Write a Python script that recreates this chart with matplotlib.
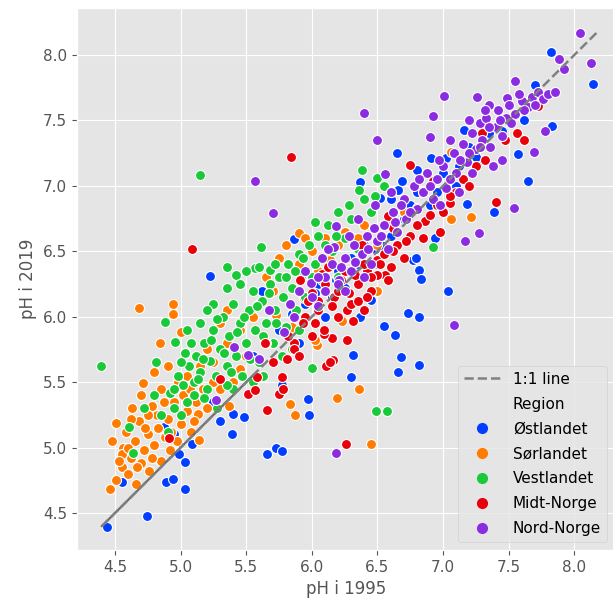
import numpy as np
import matplotlib
matplotlib.use("Agg")
import matplotlib.pyplot as plt
from matplotlib.lines import Line2D

plt.style.use("ggplot")

# pH per station, 1995 vs 2019, grouped by region
OSTLANDET = [
    (4.44, 4.39), (4.74, 4.48), (4.55, 4.74), (4.89, 4.74), (4.94, 4.76), (5.03, 4.68),
    (4.98, 5.04), (4.99, 4.95), (5.03, 4.89), (5.09, 5.03), (4.87, 5.16), (5.30, 5.20),
    (5.39, 5.10), (5.40, 5.26), (5.48, 5.23), (5.66, 4.95), (5.73, 5.00), (5.77, 4.97),
    (5.97, 5.37), (5.98, 5.25), (5.77, 5.48), (5.22, 6.31), (5.86, 6.59), (6.31, 5.71),
    (6.30, 5.54), (6.55, 5.93), (6.63, 5.86), (6.68, 5.69), (6.82, 5.63), (6.66, 5.58),
    (6.73, 6.03), (6.82, 6.00), (7.04, 6.20), (6.82, 6.36), (6.83, 6.29), (6.77, 6.43),
    (7.18, 6.86), (7.39, 6.80), (7.65, 7.04), (7.57, 7.24), (7.62, 7.50), (7.83, 7.46),
    (7.70, 7.77), (7.82, 8.02), (8.14, 7.78), (6.65, 7.25), (6.91, 7.21), (6.37, 7.03),
    (6.37, 6.00), (6.45, 6.13), (5.95, 6.10), (6.05, 6.25), (6.10, 6.00), (6.20, 6.35),
    (6.30, 6.45), (6.40, 6.55), (6.50, 6.40), (6.55, 6.70), (6.60, 6.90), (6.70, 6.75),
    (6.80, 6.95), (6.90, 6.85), (7.00, 7.10), (7.10, 7.00), (7.20, 7.30), (7.30, 7.20),
    (7.35, 7.40), (6.15, 6.15), (5.90, 5.80), (5.75, 5.90), (6.66, 6.97), (6.69, 7.04),
    (7.02, 7.21), (7.16, 7.43), (6.80, 7.12), (6.79, 6.45), (6.94, 6.60), (6.52, 6.91),
    (6.54, 6.54), (6.25, 6.22), (5.62, 6.20), (5.85, 6.02), (6.02, 6.18), (6.18, 6.28),
    (6.35, 6.40), (6.48, 6.52), (6.60, 6.62), (6.75, 6.85), (6.95, 6.95), (7.12, 7.15),
    (7.25, 7.22), (7.45, 7.42), (5.55, 5.70), (5.25, 5.35), (4.95, 5.10),
]

SORLANDET = [
    (4.46, 4.68), (4.51, 4.75), (4.56, 5.00), (4.51, 5.19), (4.55, 4.85), (4.60, 4.80),
    (4.62, 4.92), (4.65, 5.05), (4.58, 5.12), (4.68, 5.20), (4.70, 4.88), (4.72, 4.98),
    (4.75, 5.10), (4.76, 4.82), (4.80, 5.02), (4.82, 5.25), (4.78, 5.32), (4.85, 4.90),
    (4.88, 5.08), (4.90, 5.22), (4.93, 5.12), (4.95, 5.35), (5.00, 5.18), (5.02, 5.40),
    (5.05, 5.28), (5.08, 5.12), (5.14, 5.06), (5.12, 5.35), (4.70, 5.40), (4.63, 5.30),
    (4.85, 5.45), (4.98, 5.50), (5.05, 5.55), (4.71, 5.49), (4.80, 5.58), (4.90, 5.62),
    (4.84, 5.80), (5.03, 5.72), (4.68, 6.07), (4.94, 6.10), (4.94, 6.02), (5.00, 5.88),
    (4.55, 4.95), (4.48, 5.05), (5.20, 5.75), (5.25, 5.65), (5.30, 5.95), (5.35, 5.80),
    (5.45, 5.90), (5.55, 6.00), (5.37, 5.32), (5.20, 5.30), (5.13, 5.26), (5.30, 5.45),
    (5.45, 5.60), (5.60, 6.10), (5.70, 6.20), (5.75, 6.45), (5.90, 6.64), (5.90, 6.40),
    (6.00, 6.50), (6.10, 6.60), (6.20, 6.55), (6.35, 6.60), (6.50, 6.55), (6.60, 6.75),
    (6.70, 6.80), (6.85, 6.95), (7.06, 7.26), (7.21, 6.76), (7.06, 6.75), (6.45, 5.03),
    (6.19, 5.38), (6.36, 5.45), (5.83, 5.33), (5.87, 5.25), (6.04, 5.78), (6.02, 5.82),
    (6.23, 5.97), (6.50, 6.20), (5.73, 6.01), (5.85, 5.92), (5.94, 6.14), (6.14, 6.43),
    (5.15, 5.62), (5.10, 5.20), (4.66, 4.72), (4.92, 4.98), (5.40, 5.50), (5.50, 5.70),
    (4.53, 4.90), (4.60, 5.00), (4.67, 4.85), (4.73, 5.15), (4.78, 4.92), (4.83, 5.15),
    (4.87, 5.35), (4.97, 5.05), (5.07, 5.45), (5.17, 5.45), (4.62, 5.22), (4.75, 5.25),
    (5.25, 5.50), (5.35, 6.05), (5.65, 6.30), (5.80, 6.55), (5.95, 6.60), (6.25, 6.65),
    (6.40, 6.70), (6.05, 6.35),
]

VESTLANDET = [
    (4.39, 5.62), (5.15, 7.08), (4.88, 5.96), (4.96, 5.81), (4.81, 5.65), (5.03, 5.72),
    (4.61, 5.16), (4.64, 4.96), (6.00, 5.61), (6.49, 5.28), (6.57, 5.28), (6.92, 6.53),
    (6.36, 6.97), (6.50, 7.06), (5.61, 6.53), (5.35, 6.38), (5.42, 6.32), (5.57, 6.37),
    (5.68, 6.36), (4.92, 5.42), (4.98, 5.55), (5.02, 5.48), (5.06, 5.62), (5.10, 5.50),
    (5.12, 5.70), (5.15, 5.58), (5.18, 5.80), (5.20, 5.45), (5.22, 5.66), (5.25, 5.90),
    (5.27, 5.55), (5.30, 5.75), (5.32, 6.00), (5.35, 5.62), (5.37, 5.85), (5.40, 6.10),
    (5.42, 5.70), (5.45, 5.95), (5.47, 5.55), (5.50, 5.80), (5.52, 6.05), (5.55, 6.20),
    (5.57, 5.90), (5.60, 5.65), (5.62, 6.12), (5.65, 5.95), (5.68, 6.25), (5.70, 5.80),
    (5.72, 6.05), (5.75, 6.30), (5.78, 6.15), (5.80, 5.92), (5.82, 6.40), (5.85, 6.22),
    (5.88, 6.05), (5.90, 6.48), (5.92, 6.30), (5.95, 6.15), (5.98, 6.55), (6.02, 6.40),
    (6.05, 6.62), (6.08, 6.28), (6.12, 6.70), (6.15, 6.50), (6.20, 6.80), (6.25, 6.60),
    (6.30, 6.75), (6.40, 6.90), (6.45, 6.80), (6.55, 7.00), (6.60, 6.95), (5.05, 5.35),
    (5.00, 5.25), (5.10, 5.40), (4.95, 5.30), (5.15, 5.95), (5.25, 6.10), (5.35, 6.22),
    (5.45, 6.25), (5.50, 6.35), (5.20, 6.05), (5.08, 5.80), (5.40, 5.45), (5.55, 5.50),
    (5.63, 5.55), (5.77, 5.70), (5.85, 5.75), (6.35, 6.52), (6.20, 6.30), (5.28, 5.30),
    (4.85, 5.25), (5.90, 5.90), (5.65, 5.80), (5.60, 6.38), (4.72, 5.30), (6.38, 7.12),
    (5.05, 5.90), (5.13, 5.52), (5.17, 5.68), (5.23, 5.82), (5.28, 5.98), (5.33, 5.72),
    (5.38, 5.58), (5.43, 5.88), (5.48, 6.00), (5.53, 5.68), (5.58, 6.08), (5.63, 5.85),
    (5.67, 6.18), (5.73, 5.95), (5.80, 6.30), (5.87, 6.35), (5.93, 6.45), (6.00, 6.30),
    (6.10, 6.55), (6.18, 6.62), (6.28, 6.85), (5.00, 5.65), (4.95, 5.45), (4.90, 5.12),
    (4.80, 5.40), (5.18, 5.38), (5.35, 5.48), (5.72, 6.40), (6.02, 6.72), (6.48, 6.92),
]

MIDT_NORGE = [
    (5.84, 7.22), (5.09, 6.52), (4.91, 5.07), (5.30, 5.52), (5.66, 5.29), (5.51, 5.41),
    (5.57, 5.44), (5.75, 5.41), (5.81, 5.68), (6.11, 5.62), (6.16, 5.67), (6.26, 5.03),
    (6.27, 5.82), (6.15, 5.84), (6.09, 5.87), (6.31, 5.97), (6.27, 6.05), (7.05, 6.87),
    (6.98, 6.65), (7.40, 6.88), (7.56, 7.40), (7.62, 7.35), (7.72, 7.61), (7.75, 7.69),
    (5.64, 5.80), (6.09, 5.90), (6.05, 6.05), (6.17, 6.15), (6.08, 6.33), (5.91, 6.28),
    (5.86, 5.80), (5.58, 5.54), (5.77, 5.54), (5.78, 5.45), (6.75, 7.16), (6.80, 6.83),
    (6.86, 6.73), (6.58, 6.77), (6.50, 6.43), (6.56, 6.32), (6.42, 6.35), (7.30, 7.40),
    (7.32, 7.20), (7.47, 7.35), (6.92, 7.04), (5.86, 5.75), (6.14, 5.65), (6.00, 6.18),
    (6.10, 6.25), (6.20, 6.20), (6.25, 6.35), (6.30, 6.10), (6.35, 6.25), (6.40, 6.40),
    (6.45, 6.20), (6.50, 6.32), (6.55, 6.48), (6.60, 6.38), (6.65, 6.55), (6.70, 6.45),
    (6.75, 6.62), (6.85, 6.60), (6.90, 6.78), (7.00, 6.80), (7.10, 6.95), (7.15, 7.05),
    (7.20, 7.00), (7.25, 7.15), (5.95, 6.00), (6.02, 5.95), (6.20, 6.00), (6.35, 6.12),
    (5.70, 5.65), (5.90, 5.70), (6.40, 6.05), (5.97, 6.12), (6.12, 6.38), (6.38, 6.55),
    (6.62, 6.68), (6.05, 6.12), (6.15, 6.08), (6.22, 6.28), (6.28, 6.18), (6.33, 6.32),
    (6.45, 6.30), (6.52, 6.40), (6.62, 6.50), (6.72, 6.58), (6.80, 6.70), (6.95, 6.85),
    (7.05, 6.92), (6.00, 5.85), (5.93, 5.95), (5.82, 5.85), (6.42, 6.15), (6.58, 6.28),
]

NORD_NORGE = [
    (5.57, 7.04), (5.70, 6.79), (5.27, 5.36), (6.18, 4.96), (6.40, 7.56), (6.50, 7.35),
    (6.92, 7.53), (6.90, 7.37), (7.01, 7.69), (7.26, 7.68), (7.49, 7.67), (7.55, 7.80),
    (8.04, 8.17), (7.88, 7.97), (7.92, 7.89), (8.13, 7.94), (7.78, 7.42), (7.69, 7.26),
    (7.54, 6.83), (7.27, 6.64), (7.17, 6.58), (7.08, 5.94), (6.56, 7.09), (5.41, 5.77),
    (5.51, 5.71), (5.60, 5.68), (5.67, 6.05), (5.79, 5.88), (5.83, 6.10), (5.86, 6.00),
    (5.99, 6.26), (6.10, 6.30), (6.21, 6.28), (6.18, 6.69), (6.17, 6.53), (6.00, 6.15),
    (6.05, 6.30), (6.10, 6.20), (6.15, 6.40), (6.20, 6.25), (6.25, 6.45), (6.30, 6.35),
    (6.32, 6.55), (6.38, 6.48), (6.42, 6.62), (6.45, 6.40), (6.50, 6.58), (6.55, 6.70),
    (6.58, 6.52), (6.62, 6.80), (6.65, 6.65), (6.70, 6.90), (6.72, 6.75), (6.78, 7.00),
    (6.80, 6.82), (6.85, 6.95), (6.88, 7.10), (6.92, 6.90), (6.95, 7.05), (7.00, 7.15),
    (7.02, 6.98), (7.08, 7.25), (7.10, 7.10), (7.15, 7.32), (7.18, 7.18), (7.22, 7.40),
    (7.25, 7.28), (7.28, 7.48), (7.30, 7.35), (7.33, 7.52), (7.36, 7.30), (7.40, 7.45),
    (7.42, 7.58), (7.45, 7.38), (7.48, 7.52), (7.50, 7.62), (7.55, 7.55), (7.60, 7.65),
    (7.65, 7.60), (7.68, 7.68), (7.72, 7.72), (7.76, 7.66), (7.80, 7.70), (7.85, 7.72),
    (7.45, 7.20), (7.38, 7.15), (7.12, 6.95), (6.98, 6.85), (6.35, 6.75), (6.28, 6.62),
    (5.95, 6.35), (5.90, 6.20), (6.08, 6.45), (6.48, 6.85), (6.40, 6.30), (7.05, 7.35),
    (7.22, 7.10), (6.60, 6.95), (7.35, 7.62), (7.58, 7.70), (6.12, 6.52), (6.22, 6.38),
    (6.33, 6.42), (6.43, 6.52), (6.53, 6.62), (6.63, 6.72), (6.68, 6.85), (6.75, 6.80),
    (6.82, 7.05), (6.90, 7.00), (6.97, 7.20), (7.05, 7.05), (7.13, 7.20), (7.20, 7.25),
    (7.28, 7.30), (7.35, 7.45), (7.43, 7.50), (7.52, 7.48), (7.62, 7.58), (7.70, 7.62),
    (7.32, 7.58), (7.20, 7.50), (6.05, 6.08), (6.25, 6.20), (6.47, 6.68),
]

REGIONS = ["Østlandet", "Sørlandet", "Vestlandet", "Midt-Norge", "Nord-Norge"]
COLORS = ["#023eff", "#ff7c00", "#1ac938", "#e8000b", "#8b2be2"]
SERIES = [OSTLANDET, SORLANDET, VESTLANDET, MIDT_NORGE, NORD_NORGE]

LINE_END = [4.40, 8.17]
SOLID_END = [4.40, 5.55]

fig = plt.figure(figsize=(6.13, 6.04), dpi=100)
ax = fig.add_axes([77 / 613, 54 / 604, 538 / 613, 542 / 604])

handles = []
for name, col, pts in zip(REGIONS, COLORS, SERIES):
    arr = np.array(pts)
    ax.scatter(arr[:, 0], arr[:, 1], s=52, color=col, edgecolor="white",
               linewidth=0.8, zorder=3)
    handles.append(Line2D([], [], marker="o", linestyle="none", color=col,
                          markersize=7, label=name))

ax.plot(SOLID_END, SOLID_END, color="#6e6e6e", lw=1.6, zorder=4)
ln, = ax.plot(LINE_END, LINE_END, color="gray", lw=1.8, linestyle="--",
              label="1:1 line", zorder=4)

ax.set_xlim(4.21, 8.31)
ax.set_ylim(4.217, 8.359)
ax.set_xticks(np.arange(4.5, 8.01, 0.5))
ax.set_yticks(np.arange(4.5, 8.01, 0.5))
ax.tick_params(labelsize=11, colors="#555555")
ax.set_xlabel("pH i 1995", fontsize=12, color="#555555")
ax.set_ylabel("pH i 2019", fontsize=12, color="#555555")

region_title = Line2D([], [], linestyle="none", label="Region")
ax.legend(handles=[ln, region_title] + handles, loc="lower right",
          fontsize=11, facecolor="#E5E5E5", framealpha=0.8,
          labelspacing=0.65, handlelength=2.4)

# panel title sits just above the canvas, only its descenders reach in
fig.text(77 / 613, 1 + 5 / 604, "(b) Sammenligning pH per innsjø",
         fontsize=13, fontweight="bold", va="baseline", ha="left")

fig.savefig("out.png", dpi=100)
